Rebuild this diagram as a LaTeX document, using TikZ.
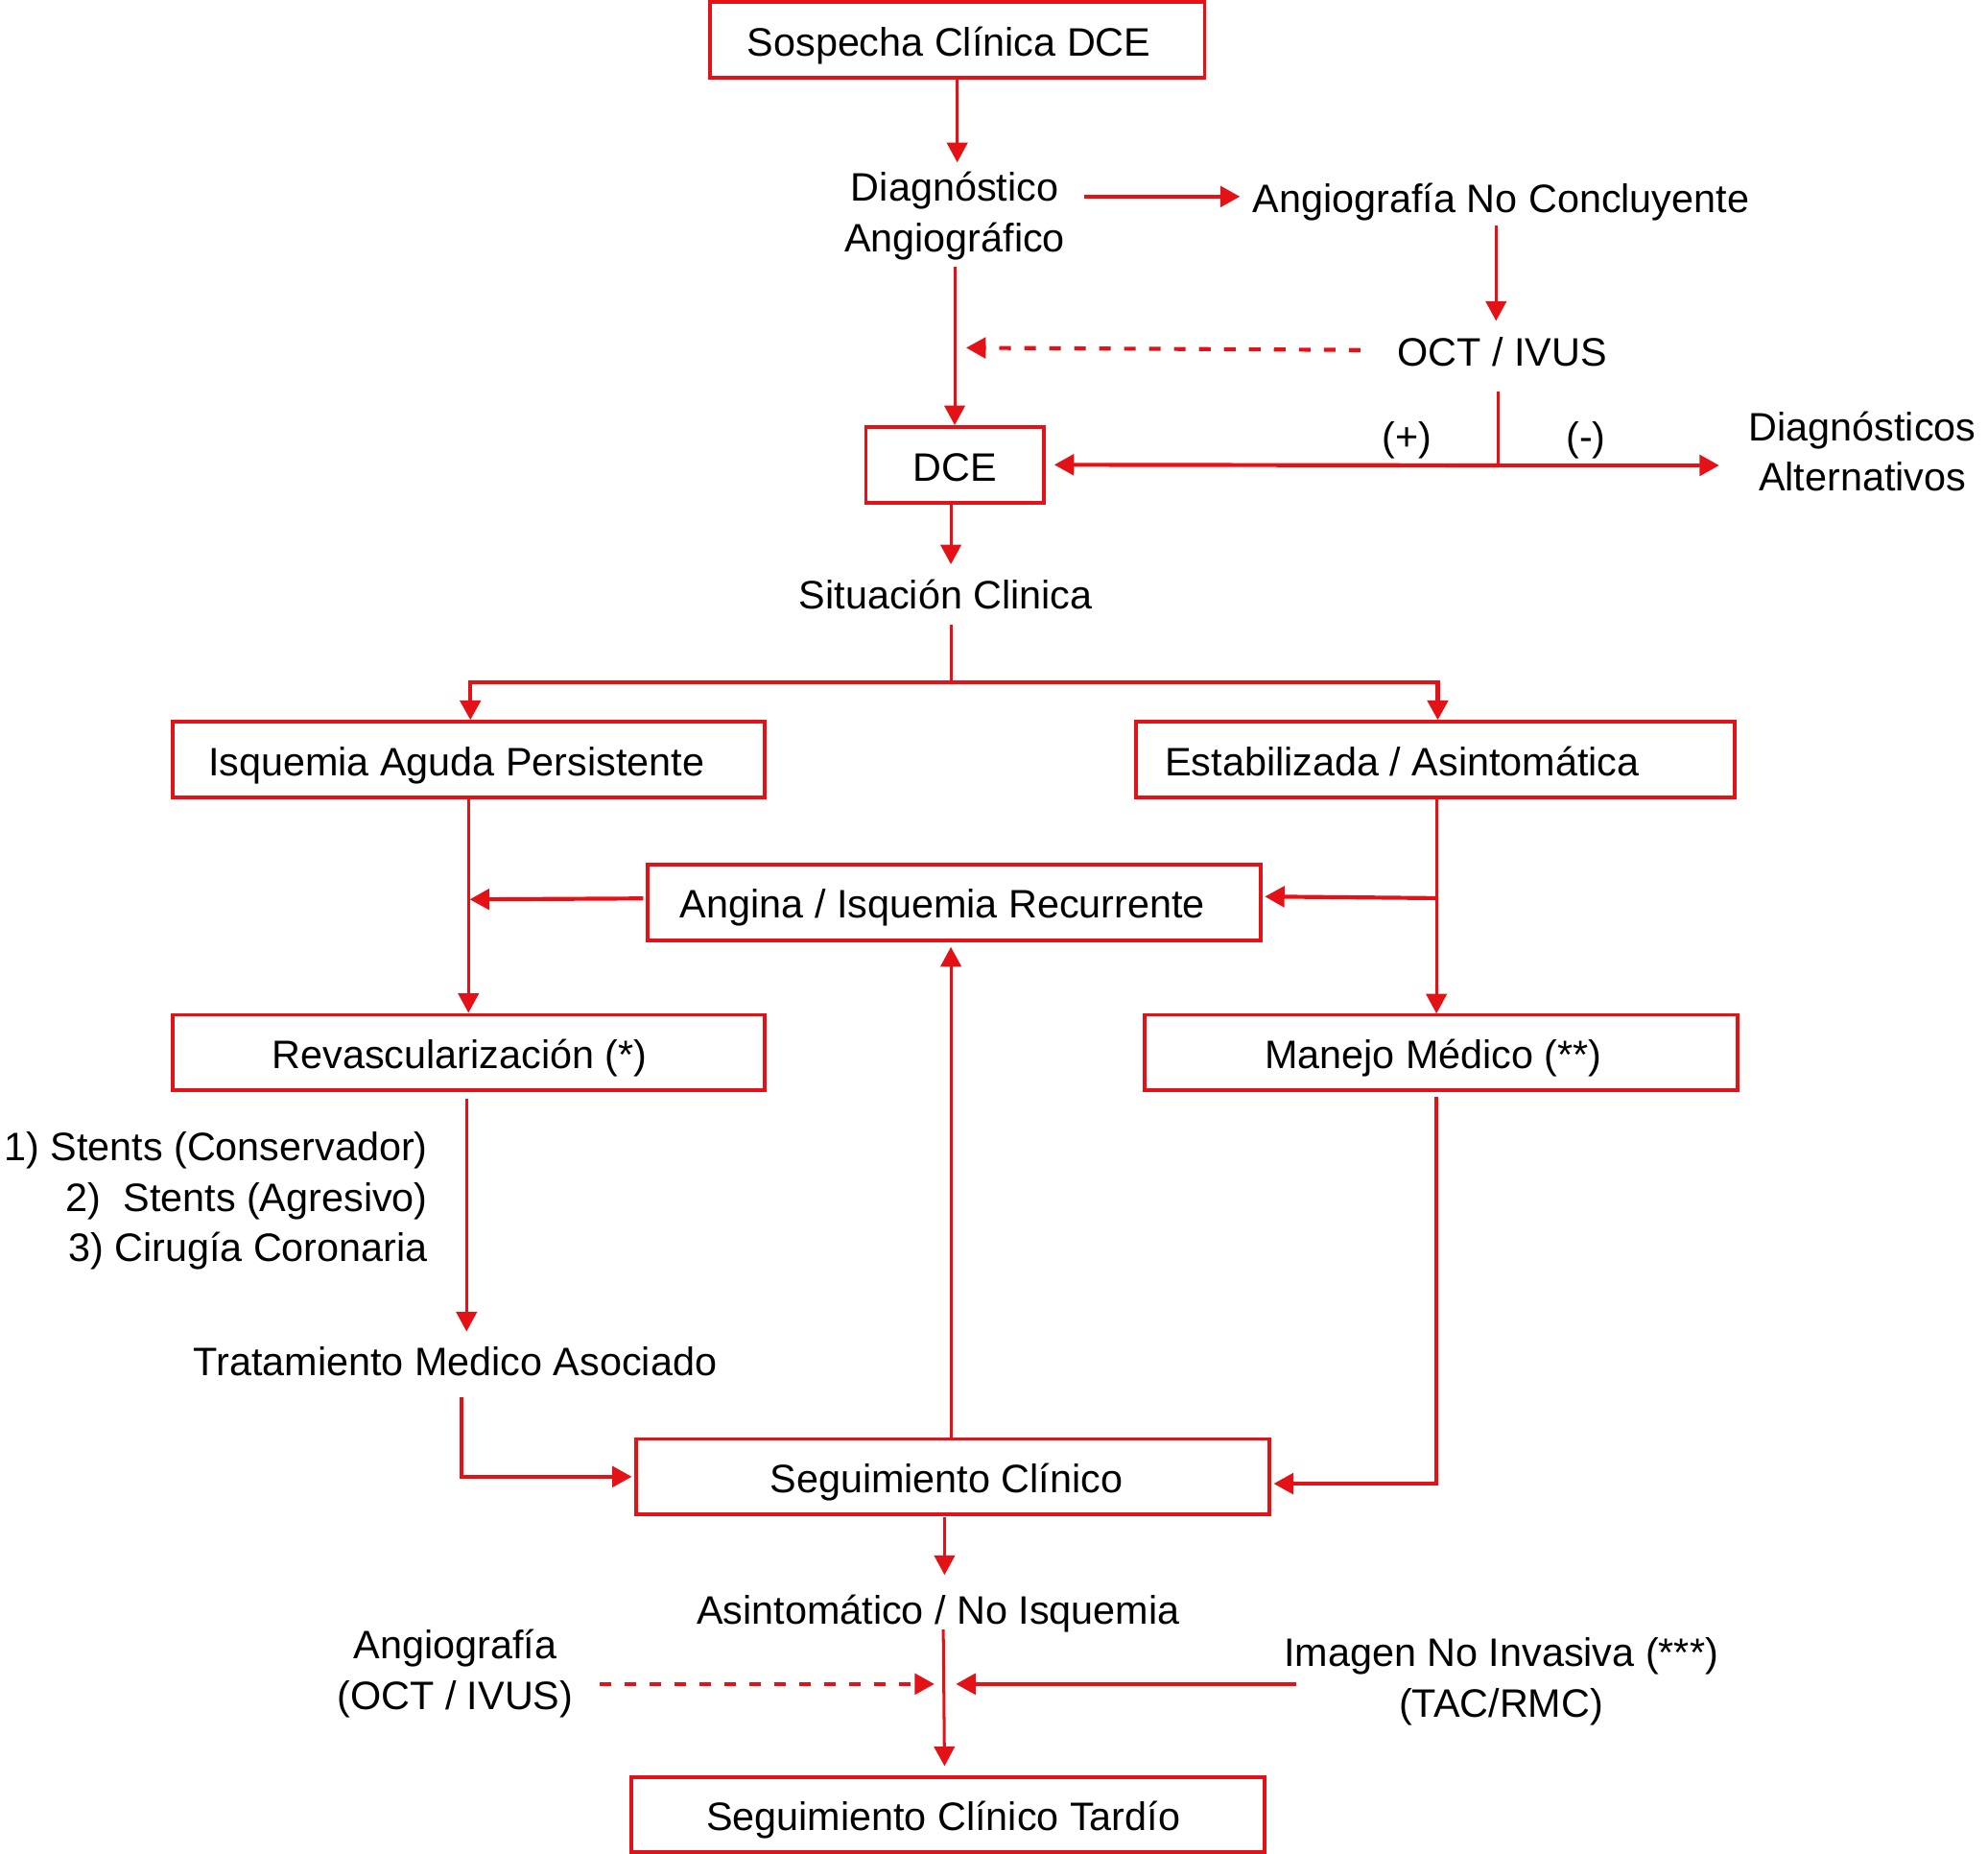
\documentclass[tikz,border=0pt]{standalone}
\usepackage{fontspec}
\setmainfont{Liberation Sans}
\usetikzlibrary{arrows.meta,calc}
\definecolor{fred}{RGB}{228,18,23}
\newcommand{\rpad}[1]{\hspace{#1}\mbox{}}
\begin{document}
\begin{tikzpicture}[x=0.01cm,y=-0.01cm,
  every node/.style={font=\fontsize{8.9}{11.38}\selectfont},
  bx/.style={draw=fred,line width=0.85pt,inner sep=0pt,text height=7.7pt,text depth=0.5pt,minimum height=0.595cm},
  txt/.style={inner sep=0pt,align=center},
  stxt/.style={inner sep=0pt,text height=7.1pt,text depth=0.6pt},
  ln/.style={draw=fred,line width=0.65pt},
  arr/.style={ln,-{Triangle[length=4.4pt,width=4.6pt]}},
  tarr/.style={arr,line width=0.9pt},
  darr/.style={arr,line width=0.9pt,dash pattern=on 2.6pt off 3pt}
]
\useasboundingbox (0,0) rectangle (1568,1462);

% boxes
\node[bx,minimum width=3.9cm] (s) at (755,31.5) {Sospecha Clínica DCE\rpad{0.13cm}};
\node[bx,minimum width=1.4cm] (dce) at (753,366.5) {DCE};
\node[bx,minimum width=4.67cm] (iap) at (369.5,599) {Isquemia Aguda Persistente\rpad{0.19cm}};
\node[bx,minimum width=4.72cm] (est) at (1132,599) {Estabilizada / Asintomática\rpad{0.52cm}};
\node[bx,minimum width=4.83cm] (ang) at (752.5,711.5) {Angina / Isquemia Recurrente\rpad{0.18cm}};
\node[bx,minimum width=4.67cm] (rev) at (369.5,830) {Revascularización (*)\rpad{0.14cm}};
\node[bx,minimum width=4.67cm] (man) at (1136.5,830) {Manejo Médico (**)\rpad{0.12cm}};
\node[bx,minimum width=4.99cm] (seg) at (751.5,1164.5) {Seguimiento Clínico\rpad{0.1cm}};
\node[bx,minimum width=4.99cm] (tar) at (747.5,1431) {Seguimiento Clínico Tardío\rpad{0.07cm}};

% plain texts
\node[txt] (diag) at (753,170) {Diagnóstico\\Angiográfico};
\node[stxt] (anc) at (1184,156) {Angiografía No Concluyente};
\node[stxt] (oct) at (1185,277) {OCT / IVUS};
\node[stxt] (plus) at (1110,344) {(+)};
\node[stxt] (minus) at (1251,344) {(-)};
\node[txt] (alt) at (1469,356) {Diagnósticos\\Alternativos};
\node[stxt] (sit) at (746,469) {Situación Clinica};
\node[txt,align=right,anchor=east] (list) at (338,947) {1) Stents (Conservador)\\2)\ \ Stents (Agresivo)\\3) Cirugía Coronaria};
\node[stxt] (trat) at (359,1073) {Tratamiento Medico Asociado};
\node[stxt] (asin) at (740,1269) {Asintomático / No Isquemia};
\node[txt] (angio) at (359,1320) {Angiografía\\(OCT / IVUS)};
\node[txt] (img) at (1184,1326) {Imagen No Invasiva (***)\\(TAC/RMC)};

% junctions
\coordinate (j) at ($(oct)+(-3,90)$);
\coordinate (sp) at ($(sit)+(4,69)$);
\coordinate (k) at ($(asin)+(5,59)$);

% connectors
\draw[arr] (s.south) -- ($(diag)+(2,-42)$);
\draw[tarr] ($(diag)+(102,-15)$) -- ($(anc)+(-206,-1)$);
\draw[arr] ($(anc)+(-4,22)$) -- ($(oct)+(-5,-24)$);
\draw[arr] ($(diag)+(0,40)$) -- (dce.north);
\draw[darr] ($(oct)+(-112,-1)$) -- ($(dce.north)+(9,-61)$);
\draw[ln] ($(oct)+(-3,32)$) -- (j);
\draw[tarr] (j) -- ($(dce.east)+(7,0)$);
\draw[tarr] (j) -- ($(alt)+(-113,11)$);
\draw[arr] ($(dce.south)+(-3,0)$) -- ($(sit)+(4,-24)$);
\draw[ln] ($(sit)+(4,24)$) -- (sp);
\draw[arr,line width=0.9pt] (sp) -| ($(iap.north)+(1.5,0)$);
\draw[arr,line width=0.9pt] (sp) -| ($(est.north)+(2,0)$);
\draw[arr] (iap.south) -- (rev.north);
\draw[tarr] ($(ang.west)+(-2,-3)$) -- ($(iap.south)+(1,79)$);
\draw[arr] ($(est.south)+(1,0)$) -- ($(est.south)+(1,169)$);
\draw[tarr] ($(est.south)+(1,78)$) -- ($(ang.east)+(2,-4.5)$);
\draw[arr] ($(rev.south)+(-1.5,5)$) -- ($(trat)+(9,-23)$);
\draw[tarr] ($(trat)+(5,29)$) |- ($(seg.west)+(-2,0)$);
\draw[arr] ($(seg.north)+(-1.5,0)$) -- ($(ang.south)+(-2.5,4)$);
\draw[tarr] ($(man.south)+(-3.5,4)$) |- ($(seg.east)+(2,5.5)$);
\draw[arr] ($(seg.south)+(-6.5,1)$) -- ($(asin)+(5,-27)$);
\draw[arr] ($(asin)+(4,16)$) -- ($(tar.north)+(-2.5,-7)$);
\draw[darr] ($(angio)+(114,8)$) -- ($(k)+(-8,0)$);
\draw[tarr] ($(img)+(-162,2)$) -- ($(k)+(9,0)$);
\end{tikzpicture}
\end{document}
